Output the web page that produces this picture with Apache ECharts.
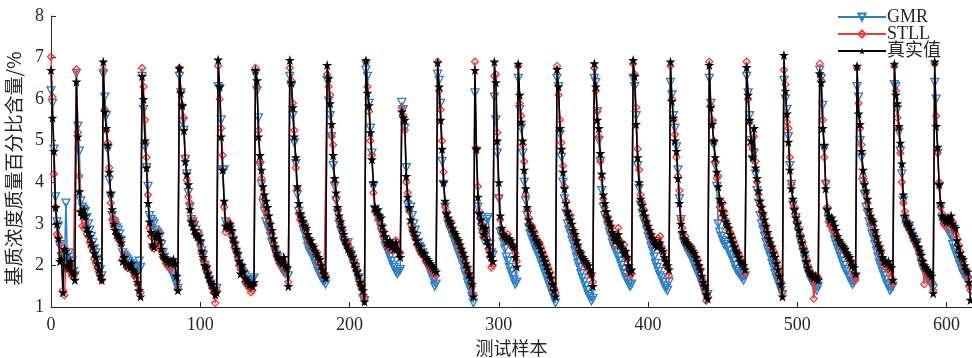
<!DOCTYPE html>
<html>
<head>
<meta charset="utf-8">
<script src="https://cdn.jsdelivr.net/npm/echarts@6/dist/echarts.min.js"></script>
<style>
  html, body { margin: 0; padding: 0; background: #fff; }
  #chart { width: 972px; height: 358px; }
</style>
</head>
<body>
<div id="chart"></div>
<script>
// one sub-array per fill/decay cycle, sample index runs on through all of them
const trueCycles = [
  [6.7, 5.55, 4.75, 3.4, 3.0, 2.65, 2.1, 2.15, 1.35, 2.4, 2.35, 2.0, 1.95, 2.1, 1.85, 1.8, 1.65],
  [6.42, 5.1, 3.78, 3.3, 3.2, 3.35, 3.2, 2.9, 2.8, 2.7, 2.55, 2.45, 2.3, 2.2, 2.05, 1.9, 1.75, 1.65],
  [6.9, 5.7, 5.3, 4.9, 4.25, 3.75, 3.35, 3.0, 2.85, 2.75, 2.7, 2.65, 2.55, 2.1, 2.2, 2.05, 2.0, 2.0, 1.95, 2.05, 1.9, 1.85, 1.8, 1.6, 1.4, 1.25],
  [6.55, 6.0, 5.0, 4.35, 3.5, 3.05, 2.8, 2.5, 2.45, 2.7, 2.75, 2.75, 2.6, 2.4, 2.25, 2.2, 2.15, 2.1, 2.1, 2.05, 2.1, 2.15, 2.05, 1.75, 1.4],
  [6.75, 6.15, 5.85, 5.25, 4.5, 4.2, 3.95, 3.35, 3.05, 2.95, 2.85, 2.75, 2.7, 2.7, 2.6, 2.35, 2.2, 2.0, 1.95, 1.8, 1.7, 1.6, 1.55, 1.45, 1.3, 1.35],
  [6.95, 6.3, 5.1, 4.3, 3.55, 2.95, 2.95, 2.9, 3.0, 2.85, 2.65, 2.55, 2.4, 2.3, 2.1, 1.8, 2.0, 1.85, 1.7, 1.65, 1.6, 1.55, 1.55, 1.5, 1.6],
  [6.7, 6.45, 5.1, 4.65, 4.3, 3.9, 3.7, 3.55, 3.4, 3.2, 3.0, 2.85, 2.65, 2.45, 2.3, 2.2, 2.15, 2.1, 2.05, 2.2, 2.0, 1.95, 1.5],
  [6.94, 6.4, 5.8, 5.1, 4.6, 3.9, 3.5, 3.25, 3.15, 3.05, 2.95, 2.9, 2.75, 2.65, 2.6, 2.5, 2.45, 2.35, 2.3, 2.2, 2.15, 2.0, 1.9, 1.8, 1.7],
  [6.82, 6.5, 5.9, 5.4, 4.65, 4.1, 3.75, 3.4, 3.2, 3.05, 2.9, 2.75, 2.6, 2.5, 2.4, 2.35, 2.3, 2.2, 2.05, 1.95, 1.85, 1.75, 1.6, 1.5, 1.4, 1.13],
  [6.93, 6.15, 5.85, 5.2, 4.55, 4.0, 3.4, 3.3, 3.35, 3.2, 3.15, 2.95, 2.8, 2.7, 2.55, 2.5, 2.6, 2.45, 2.5, 2.4, 2.55, 2.4, 2.3, 2.2],
  [5.7, 5.55, 5.5, 4.15, 3.65, 3.4, 3.1, 2.9, 2.8, 2.7, 2.6, 2.5, 2.45, 2.35, 2.3, 2.3, 2.2, 2.15, 2.1, 2.05, 2.0, 1.95, 1.9, 1.85],
  [6.88, 6.3, 5.5, 4.8, 4.0, 3.55, 3.25, 3.15, 3.05, 3.0, 2.9, 2.8, 2.75, 2.65, 2.6, 2.5, 2.4, 2.3, 2.2, 2.05, 1.95, 1.8, 1.7, 1.55, 1.25],
  [6.7, 4.8, 3.65, 3.25, 3.1, 2.95, 2.75, 2.9, 2.6, 2.5, 2.3, 2.2, 2.1],
  [6.9, 6.4, 5.0, 4.0, 3.2, 2.9, 2.75, 2.7, 2.65, 2.6, 2.65, 2.6, 2.5, 2.45, 2.2, 1.97],
  [6.85, 6.1, 5.45, 5.0, 4.3, 3.85, 3.4, 3.1, 2.95, 2.9, 2.8, 2.7, 2.6, 2.55, 2.5, 2.4, 2.3, 2.2, 2.1, 2.0, 1.9, 1.8, 1.7, 1.55, 1.4, 1.25],
  [6.72, 6.3, 5.3, 4.8, 4.25, 3.85, 3.5, 3.3, 3.2, 3.1, 3.0, 2.85, 2.75, 2.6, 2.5, 2.35, 2.3, 2.2, 2.15, 2.1, 2.05, 2.0, 1.9, 1.8, 1.5],
  [6.86, 6.3, 5.5, 5.3, 4.7, 4.2, 3.7, 3.5, 3.3, 3.15, 3.05, 2.95, 2.8, 2.7, 2.6, 2.65, 2.75, 2.5, 2.55, 2.4, 2.3, 2.35, 2.2, 2.0, 1.85, 1.9],
  [6.94, 6.55, 5.4, 4.6, 4.0, 3.6, 3.45, 3.3, 3.2, 3.05, 2.95, 2.85, 2.75, 2.65, 2.6, 2.5, 2.45, 2.5, 2.55, 2.4, 2.35, 2.2, 2.1, 2.0, 1.9],
  [6.9, 5.95, 5.55, 5.0, 4.75, 4.1, 3.5, 3.0, 2.8, 2.65, 2.6, 2.55, 2.5, 2.45, 2.4, 2.35, 2.3, 2.2, 2.1, 2.0, 1.9, 1.75, 1.6, 1.5, 1.3, 1.2],
  [6.82, 5.8, 5.4, 5.0, 4.6, 4.25, 3.9, 3.6, 3.5, 3.3, 3.2, 3.05, 3.0, 2.9, 2.75, 2.65, 2.55, 2.45, 2.35, 2.3, 2.2, 2.1, 2.05, 2.0, 1.9],
  [6.77, 6.1, 5.5, 5.0, 4.6, 5.3, 4.35, 4.1, 3.8, 3.55, 3.4, 3.25, 3.1, 2.95, 2.8, 2.65, 2.55, 2.45, 2.3, 2.2, 2.05, 1.9, 1.75, 1.55, 1.25],
  [7.06, 6.2, 5.65, 4.97, 4.3, 3.85, 3.6, 3.35, 3.15, 3.0, 2.85, 2.7, 2.55, 2.4, 2.3, 2.1, 1.95, 1.85, 1.8, 1.75, 1.7, 1.75, 1.7, 1.65],
  [6.62, 6.4, 5.3, 4.9, 3.85, 3.35, 3.2, 3.1, 3.15, 3.05, 2.95, 2.85, 2.7, 2.6, 2.55, 2.5, 2.45, 2.4, 2.3, 2.25, 2.2, 2.1, 2.0, 1.95, 1.8],
  [6.8, 5.65, 5.4, 4.75, 4.3, 3.95, 3.8, 3.6, 3.35, 3.2, 3.1, 3.05, 2.85, 2.7, 2.55, 2.45, 2.35, 2.2, 2.1, 2.1, 2.05, 2.1, 2.0, 1.95, 1.65],
  [6.85, 6.1, 5.9, 5.35, 4.95, 4.45, 3.7, 3.2, 3.05, 3.0, 2.95, 2.85, 2.75, 2.7, 2.6, 2.55, 2.45, 2.35, 2.25, 2.1, 2.0, 1.95, 1.9, 1.85, 1.8, 1.75, 1.33],
  [6.9, 5.35, 4.85, 3.95, 3.5, 3.2, 3.15, 3.1, 3.05, 3.15, 3.05, 3.2, 3.0, 2.95, 2.9, 2.6, 2.45, 2.3, 2.2, 2.15, 2.0, 1.9, 1.85, 1.6, 1.17]
]

const gmrCycles = [
  [6.2, 5.9, 4.8, 3.65, 3.05, 2.95, 2.5, 2.2, 2.1, 1.95, 3.5, 2.1, 2.3, 2.2, 2.1, 1.85, 1.75],
  [6.62, 5.35, 4.75, 3.55, 3.4, 3.35, 3.3, 3.15, 3.0, 2.85, 2.7, 2.55, 2.4, 2.3, 2.15, 2.05, 1.9, 1.75],
  [6.6, 6.05, 5.6, 4.8, 4.05, 3.65, 3.2, 3.05, 2.95, 2.9, 2.85, 2.75, 2.6, 2.3, 2.25, 2.2, 2.15, 2.1, 2.05, 2.0, 2.0, 1.95, 1.9, 1.85, 2.1, 1.95],
  [6.55, 5.75, 4.85, 4.35, 3.9, 3.2, 3.1, 3.05, 3.0, 2.85, 2.8, 2.75, 2.7, 2.5, 2.3, 2.2, 2.1, 2.0, 1.95, 1.9, 1.8, 1.75, 1.65, 1.55, 1.45],
  [6.55, 6.15, 5.45, 5.25, 4.55, 4.2, 3.75, 3.4, 3.1, 3.05, 2.95, 2.85, 2.75, 2.65, 2.5, 2.35, 2.25, 2.0, 1.9, 1.75, 1.65, 1.55, 1.45, 1.4, 1.3, 1.45],
  [6.3, 6.25, 5.5, 4.3, 4.3, 3.05, 2.95, 2.9, 2.85, 2.75, 2.6, 2.45, 2.3, 2.2, 2.05, 1.95, 1.85, 1.8, 1.75, 1.65, 1.6, 1.55, 1.5, 1.65, 1.7],
  [6.6, 6.2, 5.55, 4.4, 3.95, 3.5, 3.3, 3.05, 2.95, 2.85, 2.7, 2.55, 2.45, 2.35, 2.25, 2.2, 2.05, 1.95, 1.9, 1.85, 1.8, 1.85, 1.75],
  [6.55, 6.3, 5.6, 4.95, 4.45, 3.7, 3.3, 3.15, 3.0, 2.85, 2.75, 2.6, 2.45, 2.35, 2.3, 2.25, 2.15, 2.05, 1.95, 1.85, 1.8, 1.7, 1.65, 1.6, 1.55],
  [6.45, 5.95, 5.6, 5.1, 4.4, 3.9, 3.55, 3.25, 3.0, 2.85, 2.75, 2.6, 2.5, 2.45, 2.55, 2.35, 2.25, 2.15, 2.05, 1.95, 1.8, 1.7, 1.55, 1.45, 1.2, 1.15],
  [6.7, 6.55, 5.9, 5.3, 4.7, 3.9, 3.35, 3.25, 3.15, 3.05, 2.9, 2.75, 2.6, 2.45, 2.4, 2.3, 2.2, 2.1, 2.0, 1.95, 1.85, 1.8, 1.85, 1.9],
  [5.92, 5.75, 5.3, 4.35, 3.45, 3.3, 3.4, 3.2, 3.0, 2.85, 2.7, 2.55, 2.45, 2.4, 2.3, 2.2, 2.1, 2.0, 1.95, 1.85, 1.75, 1.65, 1.5, 1.55],
  [6.6, 6.45, 5.9, 4.5, 3.95, 3.4, 3.2, 3.0, 2.9, 2.8, 2.7, 2.6, 2.5, 2.4, 2.3, 2.2, 2.1, 2.0, 1.85, 1.75, 1.6, 1.5, 1.4, 1.25, 1.1],
  [6.15, 4.75, 3.4, 3.2, 3.05, 2.8, 2.6, 2.75, 3.1, 3.15, 2.5, 2.3, 2.25],
  [6.05, 5.5, 4.7, 3.6, 2.8, 2.7, 2.55, 2.4, 2.2, 2.1, 1.95, 1.85, 1.75, 1.65, 1.55, 1.6],
  [6.5, 5.75, 5.3, 4.7, 4.0, 3.55, 3.2, 2.9, 2.75, 2.65, 2.55, 2.45, 2.35, 2.3, 2.2, 2.1, 2.0, 1.9, 1.8, 1.7, 1.6, 1.5, 1.4, 1.3, 1.2, 1.1],
  [6.5, 6.3, 5.15, 4.6, 4.0, 3.6, 3.25, 3.0, 2.85, 2.75, 2.6, 2.5, 2.35, 2.2, 2.05, 1.95, 1.8, 1.7, 1.6, 1.5, 1.4, 1.3, 1.25, 1.15, 1.2],
  [6.5, 6.4, 5.7, 5.0, 4.5, 3.8, 3.4, 3.2, 3.1, 2.95, 2.8, 2.7, 2.55, 2.45, 2.35, 2.3, 2.2, 2.1, 2.0, 1.9, 1.8, 1.7, 1.65, 1.55, 1.5, 1.55],
  [6.5, 6.3, 5.6, 4.4, 3.85, 3.45, 3.25, 3.1, 3.0, 2.85, 2.7, 2.6, 2.45, 2.35, 2.2, 2.05, 1.95, 1.85, 1.75, 1.7, 1.6, 1.5, 1.45, 1.4, 1.6],
  [6.4, 6.1, 5.6, 5.3, 4.85, 4.3, 3.6, 3.1, 2.7, 2.55, 2.45, 2.4, 2.3, 2.25, 2.2, 2.1, 2.0, 1.9, 1.85, 1.75, 1.65, 1.55, 1.45, 1.35, 1.25, 1.3],
  [6.5, 5.9, 5.4, 4.9, 4.4, 3.9, 3.0, 2.8, 2.7, 2.6, 2.5, 2.55, 2.45, 2.35, 2.25, 2.2, 2.1, 2.0, 1.9, 1.85, 1.8, 1.75, 1.7, 1.65, 1.75],
  [6.55, 6.15, 5.6, 5.0, 4.55, 4.7, 4.2, 3.8, 3.5, 3.2, 3.0, 2.85, 2.7, 2.55, 2.4, 2.3, 2.2, 2.05, 1.95, 1.8, 1.7, 1.6, 1.5, 1.4, 1.3],
  [6.45, 6.0, 5.75, 5.1, 4.4, 3.95, 3.45, 3.3, 3.15, 2.95, 2.8, 2.6, 2.45, 2.3, 2.15, 2.0, 1.85, 1.75, 1.65, 1.6, 1.55, 1.45, 1.4, 1.5],
  [6.7, 6.5, 5.85, 4.8, 3.95, 3.3, 3.1, 3.0, 2.9, 2.75, 2.6, 2.5, 2.4, 2.3, 2.2, 2.1, 2.0, 1.9, 1.85, 1.75, 1.7, 1.6, 1.55, 1.6, 1.7],
  [6.3, 6.05, 5.0, 4.6, 4.0, 3.7, 3.4, 3.25, 3.05, 2.9, 2.75, 2.65, 2.5, 2.35, 2.2, 2.05, 1.95, 1.85, 1.75, 1.65, 1.55, 1.5, 1.4, 1.45, 1.5],
  [6.35, 6.3, 5.75, 5.2, 4.75, 4.2, 3.55, 3.1, 2.95, 2.9, 2.95, 2.8, 2.7, 2.6, 2.5, 2.55, 2.35, 2.2, 2.05, 1.95, 1.85, 1.8, 1.7, 1.65, 1.6, 1.5, 1.45],
  [6.4, 6.0, 4.7, 3.9, 3.4, 3.1, 3.0, 2.95, 2.9, 2.85, 2.75, 2.7, 2.5, 2.4, 2.3, 2.2, 2.1, 2.0, 1.9, 1.8, 1.75, 1.7, 1.65, 1.6, 1.5]
]

const stllCycles = [
  [7.02, 6.05, 4.2, 3.4, 2.75, 2.7, 2.5, 2.3, 1.4, 1.28, 2.0, 1.95, 1.9, 1.85, 1.75, 1.8, 1.8],
  [6.72, 5.2, 4.15, 3.3, 2.95, 2.9, 3.05, 2.75, 2.7, 2.55, 2.45, 2.35, 2.15, 2.05, 1.95, 1.85, 1.75, 1.65],
  [6.7, 5.75, 5.25, 4.95, 4.35, 3.5, 3.1, 2.95, 3.1, 2.75, 2.65, 2.6, 2.5, 2.15, 2.25, 2.05, 1.95, 2.0, 2.0, 1.95, 1.85, 1.75, 1.7, 1.55, 1.4, 1.35],
  [6.75, 6.3, 5.5, 4.6, 3.7, 2.9, 2.7, 2.45, 2.4, 2.5, 2.65, 2.8, 2.5, 2.35, 2.2, 2.15, 2.05, 2.0, 1.95, 2.1, 1.95, 2.0, 2.05, 1.75, 1.45],
  [6.75, 6.2, 5.85, 5.55, 4.6, 4.05, 3.65, 3.5, 3.1, 3.0, 3.05, 2.75, 2.7, 2.8, 2.5, 2.3, 2.15, 2.05, 1.9, 1.85, 1.7, 1.6, 1.45, 1.35, 1.1, 1.4],
  [6.8, 6.0, 5.3, 4.65, 3.4, 2.8, 2.9, 3.05, 2.95, 2.75, 2.6, 2.45, 2.35, 2.2, 2.0, 1.9, 1.95, 1.75, 1.6, 1.55, 1.5, 1.45, 1.35, 1.4, 1.55],
  [6.75, 6.3, 5.25, 4.5, 4.1, 3.65, 3.45, 3.3, 3.2, 3.05, 2.85, 2.75, 2.55, 2.4, 2.25, 2.15, 2.05, 2.0, 2.1, 2.05, 1.85, 1.95, 1.6],
  [6.75, 6.45, 5.9, 5.25, 4.35, 3.85, 3.25, 3.1, 3.05, 2.95, 3.0, 2.85, 2.65, 2.6, 2.5, 2.45, 2.4, 2.3, 2.25, 2.1, 2.05, 1.95, 1.8, 1.75, 1.75],
  [6.6, 6.3, 6.1, 5.1, 4.9, 4.0, 3.6, 3.35, 3.15, 3.0, 2.85, 2.65, 2.6, 2.55, 2.5, 2.4, 2.25, 2.15, 2.1, 2.0, 1.9, 1.7, 1.55, 1.45, 1.3, 1.2],
  [6.9, 6.3, 5.7, 5.0, 4.65, 3.75, 3.3, 3.25, 3.1, 3.2, 2.9, 2.85, 2.7, 2.6, 2.5, 2.45, 2.4, 2.5, 2.35, 2.4, 2.6, 2.55, 2.35, 2.3],
  [5.8, 5.6, 5.25, 4.0, 3.75, 3.3, 3.0, 2.85, 2.75, 2.65, 2.5, 2.45, 2.35, 2.3, 2.25, 2.2, 2.1, 2.05, 2.05, 1.95, 1.9, 1.85, 1.8, 1.75],
  [6.9, 6.2, 5.75, 5.0, 4.25, 3.4, 3.3, 3.1, 2.95, 3.05, 2.85, 2.8, 2.7, 2.6, 2.55, 2.45, 2.35, 2.25, 2.15, 2.0, 1.9, 1.8, 1.7, 1.5, 1.3],
  [6.9, 4.8, 3.9, 3.3, 3.0, 2.8, 2.7, 2.85, 2.65, 2.4, 2.2, 1.95, 2.0],
  [6.55, 6.6, 5.2, 3.65, 3.1, 2.85, 2.7, 2.65, 2.6, 2.75, 2.6, 2.55, 2.45, 2.4, 2.3, 2.1],
  [6.8, 5.9, 5.6, 4.9, 4.5, 3.7, 3.35, 3.15, 3.0, 2.95, 2.85, 2.8, 2.65, 2.6, 2.55, 2.45, 2.35, 2.25, 2.15, 2.05, 1.95, 1.85, 1.7, 1.55, 1.45, 1.35],
  [6.8, 6.1, 5.5, 4.95, 4.4, 3.9, 3.55, 3.3, 3.1, 3.2, 2.9, 2.8, 2.7, 2.6, 2.45, 2.35, 2.25, 2.2, 2.1, 2.0, 2.0, 1.9, 1.8, 1.75, 1.6],
  [6.75, 6.2, 5.7, 5.1, 4.5, 4.1, 3.6, 3.4, 3.2, 3.1, 3.0, 2.9, 2.75, 2.65, 2.5, 2.7, 2.9, 2.6, 2.45, 2.4, 2.5, 2.25, 2.15, 1.9, 1.75, 1.8],
  [6.85, 6.6, 5.8, 4.8, 4.3, 3.7, 3.5, 3.35, 3.15, 3.0, 2.9, 2.8, 2.7, 2.6, 2.55, 2.5, 2.6, 2.65, 2.7, 2.45, 2.3, 2.15, 2.0, 1.95, 1.75],
  [6.8, 6.0, 5.5, 5.15, 4.6, 4.15, 3.8, 3.1, 2.9, 2.65, 2.7, 2.55, 2.5, 2.4, 2.45, 2.3, 2.25, 2.2, 2.15, 2.0, 1.9, 1.7, 1.55, 1.4, 1.15, 1.25],
  [6.9, 5.85, 5.5, 5.0, 4.5, 4.1, 4.15, 3.4, 3.15, 3.5, 3.3, 3.1, 2.95, 2.85, 2.8, 2.7, 2.6, 2.5, 2.4, 2.3, 2.25, 2.15, 2.05, 1.95, 1.8],
  [6.9, 6.0, 5.45, 4.9, 4.8, 5.1, 4.5, 4.0, 3.7, 3.45, 3.3, 3.2, 3.0, 2.9, 2.75, 2.6, 2.5, 2.4, 2.35, 2.25, 2.1, 1.95, 1.8, 1.6, 1.35],
  [6.7, 6.35, 5.45, 5.3, 4.6, 3.95, 3.5, 3.4, 3.2, 3.05, 2.9, 2.75, 2.6, 2.45, 2.35, 2.15, 2.0, 1.9, 1.8, 1.7, 1.2, 1.6, 1.75, 1.7],
  [6.85, 6.45, 5.5, 4.6, 4.0, 3.4, 3.05, 2.95, 3.0, 2.9, 2.8, 2.75, 2.65, 2.6, 2.5, 2.45, 2.35, 2.4, 2.3, 2.2, 2.15, 2.05, 1.9, 1.75, 1.65],
  [6.75, 5.9, 5.3, 4.9, 4.15, 4.0, 3.75, 3.5, 3.3, 3.15, 3.05, 2.95, 2.8, 2.65, 2.5, 2.4, 2.3, 2.15, 2.05, 1.95, 2.0, 1.9, 1.85, 1.7, 1.55],
  [6.8, 6.2, 5.55, 5.3, 4.7, 4.0, 3.5, 3.3, 3.1, 2.95, 2.85, 2.8, 2.7, 2.6, 2.55, 2.45, 2.4, 2.3, 2.15, 2.0, 1.55, 1.9, 1.85, 1.8, 1.7, 1.6, 1.4],
  [6.85, 5.6, 4.7, 4.0, 3.4, 3.25, 3.0, 2.95, 3.0, 3.1, 2.9, 3.1, 3.05, 2.85, 2.75, 2.65, 2.5, 2.35, 2.2, 2.1, 1.95, 1.85, 1.7, 1.5, 1.4]
]

const xTicks = [0, 100, 200, 300, 400, 500, 600]
const sampleCount = 617

const blue = '#2b7fc4'
const red = '#ee3b3b'
const black = '#000'
const serif = '"Liberation Serif", "Times New Roman", serif'
const cjk = '"Noto Sans CJK SC", sans-serif'

const toPoints = cycles => [].concat(...cycles).map((v, i) => [i, v])

const star = 'path://M50,0 L61,35 L98,35 L68,57 L79,91 L50,70 L21,91 L32,57 L2,35 L39,35 Z'

const chart = echarts.init(document.getElementById('chart'))

chart.setOption({
  animation: false,
  backgroundColor: '#fff',
  grid: {
    left: 51,
    right: 0,
    top: 16,
    bottom: 51,
    containLabel: false,
    outerBoundsMode: 'none'
  },
  legend: {
    orient: 'vertical',
    left: 832,
    top: 3,
    itemWidth: 48,
    itemHeight: 9,
    itemGap: -1,
    data: ['GMR', 'STLL', '真实值'],
    textStyle: {
      fontFamily: serif + ', ' + cjk,
      fontSize: 18,
      color: '#262626',
      padding: [0, 0, 0, -4]
    }
  },
  xAxis: {
    type: 'value',
    min: 0,
    max: sampleCount,
    interval: 100,
    name: '测试样本',
    nameLocation: 'middle',
    nameGap: 29,
    nameTextStyle: {
      fontFamily: cjk,
      fontSize: 18,
      color: '#262626'
    },
    axisLine: { lineStyle: { color: '#262626', width: 1 } },
    axisTick: { inside: true, length: 5, lineStyle: { color: '#262626' } },
    axisLabel: {
      margin: 9,
      fontFamily: serif,
      fontSize: 18,
      color: '#262626',
      showMaxLabel: false,
      formatter: v => (xTicks.indexOf(v) >= 0 ? String(v) : '')
    },
    splitLine: { show: false }
  },
  yAxis: {
    type: 'value',
    min: 1,
    max: 8,
    interval: 1,
    name: '基质浓度质量百分比含量/%',
    nameLocation: 'middle',
    nameGap: 28,
    nameTextStyle: {
      fontFamily: cjk,
      fontSize: 19,
      color: '#262626',
      padding: [0, 0, 0, -14]
    },
    axisLine: { show: true, lineStyle: { color: '#262626', width: 1 } },
    axisTick: { show: true, inside: true, length: 5, lineStyle: { color: '#262626' } },
    axisLabel: {
      margin: 7,
      fontFamily: serif,
      fontSize: 18,
      color: '#262626'
    },
    splitLine: { show: false }
  },
  series: [
    {
      name: 'GMR',
      type: 'line',
      data: toPoints(gmrCycles),
      color: blue,
      symbol: 'triangle',
      symbolRotate: 180,
      symbolSize: 8,
      itemStyle: { color: 'rgba(255,255,255,0)', borderColor: blue, borderWidth: 1.3 },
      lineStyle: { color: blue, width: 1.5 },
      z: 2
    },
    {
      name: 'STLL',
      type: 'line',
      data: toPoints(stllCycles),
      color: red,
      symbol: 'diamond',
      symbolSize: 7,
      itemStyle: { color: 'rgba(255,255,255,0)', borderColor: red, borderWidth: 1.3 },
      lineStyle: { color: red, width: 1.5 },
      z: 3
    },
    {
      name: '真实值',
      type: 'line',
      data: toPoints(trueCycles),
      color: black,
      symbol: star,
      symbolSize: 10,
      itemStyle: { color: black },
      lineStyle: { color: black, width: 1.5 },
      z: 4
    }
  ]
})
</script>
</body>
</html>
